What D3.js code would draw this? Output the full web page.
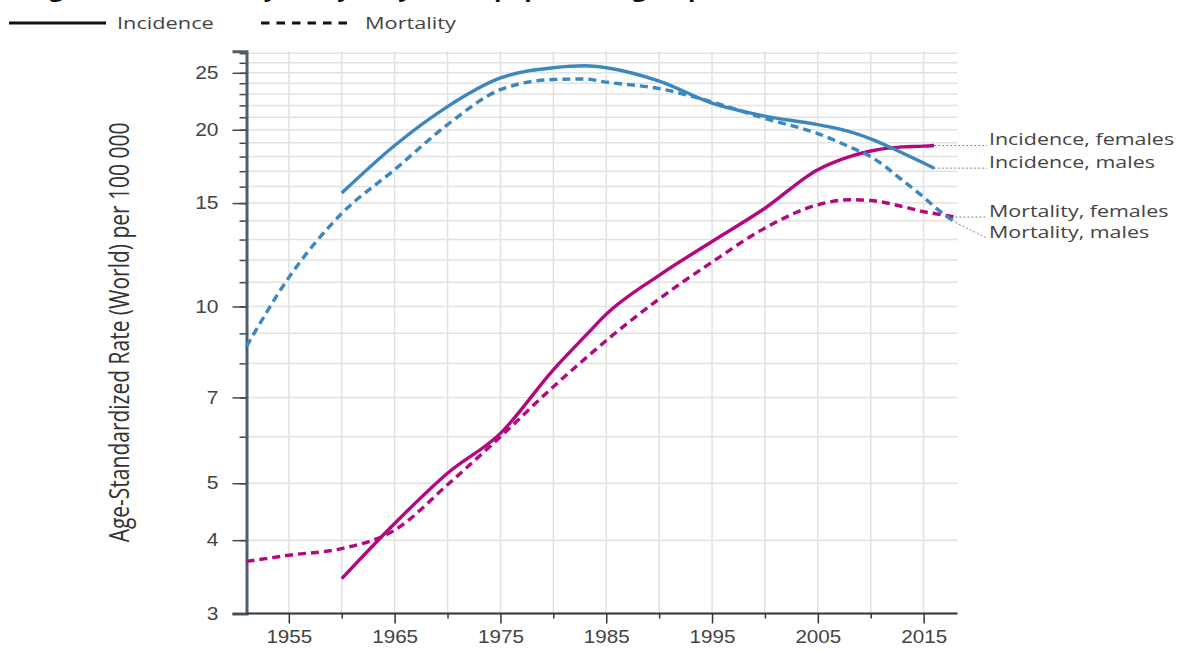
<!DOCTYPE html>
<html>
<head>
<meta charset="utf-8">
<script src="https://cdn.jsdelivr.net/npm/d3@7"></script>
<style>
  body { margin: 0; background: #fff; }
  svg { display: block; font-family: "Open Sans", "Noto Sans", sans-serif; }
</style>
</head>
<body>
<div id="chart"></div>
<script>
const years = [1951, 1955, 1960, 1965, 1970, 1975, 1980, 1983, 1985, 1990, 1995, 2000, 2005, 2008, 2010, 2013, 2015, 2016, 2018];

const incidenceMales   = [null, null, 15.6, 18.8, 21.9, 24.5, 25.5, 25.7, 25.5, 24.2, 22.2, 21.1, 20.4, 19.85, 19.3, 18.25, 17.55, 17.2, null];
const mortalityMales   = [8.55, 11.2, 14.4, 17.1, 20.4, 23.4, 24.35, 24.4, 24.1, 23.5, 22.3, 20.9, 19.7, 18.7, 18.0, 16.4, 15.35, 14.8, 13.9];
const incidenceFemales = [null, null, 3.44, 4.27, 5.2, 6.08, 7.8, 8.9, 9.7, 11.3, 12.9, 14.7, 17.1, 18.0, 18.4, 18.7, 18.75, 18.8, null];
const mortalityFemales = [3.68, 3.77, 3.87, 4.16, 4.97, 6.0, 7.3, 8.15, 8.75, 10.3, 11.9, 13.6, 14.9, 15.2, 15.15, 14.8, 14.5, 14.4, 14.2];

const seriesNames = ["Incidence, females", "Incidence, males", "Mortality, females", "Mortality, males"];
const seriesValues = [incidenceFemales, incidenceMales, mortalityFemales, mortalityMales];

const yTickLabels = [3, 4, 5, 7, 10, 15, 20, 25];
const xTickLabels = [1955, 1965, 1975, 1985, 1995, 2005, 2015];

const width = 1179;
const height = 651;
const blue = "#3b87bf";
const magenta = "#b3087f";
const textColor = "#444";

const svg = d3.select("#chart").append("svg")
    .attr("width", width)
    .attr("height", height);

// the picture is wider than tall: glyphs are drawn a bit stretched sideways
function stretch(sel, s) {
    sel.each(function() {
        const t = d3.select(this);
        const tx = +t.attr("x") || 0;
        t.attr("transform", `translate(${tx * (1 - s)},0) scale(${s},1)`);
    });
}

const x = d3.scaleLinear().domain([1951, 2018.2]).range([246.5, 957.5]);
const y = d3.scaleLog().domain([3, 27.2]).range([613.5, 51.3]);

// title, mostly cut off at the top edge
svg.append("text")
    .attr("x", 4)
    .attr("y", -3.5)
    .attr("font-size", 22)
    .attr("font-weight", "bold")
    .attr("fill", "#111")
    .text("Lung cancer: trends by sex, yearly rates, population groups")
    .call(stretch, 1.1);

// legend
const legend = svg.append("g");
legend.append("line")
    .attr("x1", 9).attr("x2", 106).attr("y1", 23).attr("y2", 23)
    .attr("stroke", "#111").attr("stroke-width", 3);
legend.append("text")
    .attr("x", 117).attr("y", 23).attr("dy", "0.35em")
    .attr("font-size", 17).attr("fill", textColor)
    .text("Incidence")
    .call(stretch, 1.28);
legend.append("line")
    .attr("x1", 261).attr("x2", 354).attr("y1", 23).attr("y2", 23)
    .attr("stroke", "#111").attr("stroke-width", 3)
    .attr("stroke-dasharray", "8.5,7");
legend.append("text")
    .attr("x", 365).attr("y", 23).attr("dy", "0.35em")
    .attr("font-size", 17).attr("fill", textColor)
    .text("Mortality")
    .call(stretch, 1.28);

// grid
const minorValues = d3.range(3, 28);
const gridYears = d3.range(1955, 2016, 5);

svg.append("g")
    .selectAll("line")
    .data(minorValues)
    .enter().append("line")
    .attr("x1", x.range()[0]).attr("x2", x.range()[1])
    .attr("y1", d => y(d)).attr("y2", d => y(d))
    .attr("stroke", "#e2e2e2").attr("stroke-width", 1.5);

svg.append("g")
    .selectAll("line")
    .data(gridYears)
    .enter().append("line")
    .attr("x1", d => x(d)).attr("x2", d => x(d))
    .attr("y1", y.range()[1]).attr("y2", y.range()[0])
    .attr("stroke", "#e2e2e2").attr("stroke-width", 1.5);

// y axis: minor ticks at every integer, labels on a few
const yMinor = svg.append("g")
    .attr("transform", `translate(${x.range()[0]},0)`)
    .call(d3.axisLeft(y).tickValues(minorValues).tickSize(7).tickFormat(""));
yMinor.select(".domain").remove();
yMinor.selectAll("line").attr("stroke", "#3d4a57").attr("stroke-width", 1.5);

const yMajor = svg.append("g")
    .attr("transform", `translate(${x.range()[0]},0)`)
    .call(d3.axisLeft(y).tickValues(yTickLabels).tickSize(14).tickPadding(14).tickFormat(d3.format("d")));
yMajor.select(".domain").attr("stroke", "#4f5e6c").attr("stroke-width", 3);
yMajor.selectAll("line").attr("stroke", "#3d4a57").attr("stroke-width", 1.5);
yMajor.selectAll("text").attr("font-size", 17.5).attr("fill", textColor).call(stretch, 1.2);

// x axis
const xMinor = svg.append("g")
    .attr("transform", `translate(0,${y.range()[0]})`)
    .call(d3.axisBottom(x).tickValues([1960, 1970, 1980, 1990, 2000, 2010]).tickSize(5).tickFormat(""));
xMinor.select(".domain").remove();
xMinor.selectAll("line").attr("stroke", "#333").attr("stroke-width", 1.5);

const xMajor = svg.append("g")
    .attr("transform", `translate(0,${y.range()[0]})`)
    .call(d3.axisBottom(x).tickValues(xTickLabels).tickSize(10).tickPadding(7).tickFormat(d3.format("d")));
xMajor.select(".domain").attr("d", `M${x.range()[0]},0H${x.range()[1]}`).attr("stroke", "#333").attr("stroke-width", 2);
xMajor.selectAll("line").attr("stroke", "#333").attr("stroke-width", 1.5);
xMajor.selectAll("text").attr("font-size", 17.5).attr("fill", textColor).call(stretch, 1.18);

// y axis title
svg.append("text")
    .attr("transform", `translate(129,${y(Math.sqrt(3 * 27.2))}) scale(1.3,1) rotate(-90)`)
    .attr("text-anchor", "middle")
    .attr("font-size", 21)
    .attr("fill", "#333")
    .text("Age-Standardized Rate (World) per 100 000");

// series
const series = seriesNames.map((name, i) => ({
    name: name,
    color: name.includes("females") ? magenta : blue,
    dashed: name.startsWith("Mortality"),
    points: years.map((yr, j) => ({ year: yr, value: seriesValues[i][j] }))
        .filter(p => p.value !== null)
}));

const line = d3.line()
    .x(d => x(d.year))
    .y(d => y(d.value))
    .curve(d3.curveMonotoneX);

svg.append("g")
    .selectAll("path")
    .data(series)
    .enter().append("path")
    .attr("d", d => line(d.points))
    .attr("fill", "none")
    .attr("stroke", d => d.color)
    .attr("stroke-width", 3.4)
    .attr("stroke-dasharray", d => d.dashed ? "8,5" : null);

// end labels with leader lines
const labelX = 989;
const ends = series.map(s => {
    const last = s.points[s.points.length - 1];
    return { name: s.name, ex: x(last.year), ey: y(last.value), ly: y(last.value) - 6 };
});
// keep the legend order among close labels
ends.sort((a, b) => Math.abs(a.ly - b.ly) < 8 ? seriesNames.indexOf(a.name) - seriesNames.indexOf(b.name) : a.ly - b.ly);
for (let i = 1; i < ends.length; i++) {
    if (ends[i].ly < ends[i - 1].ly + 21) ends[i].ly = ends[i - 1].ly + 21;
}

svg.append("g")
    .selectAll("line")
    .data(ends)
    .enter().append("line")
    .attr("x1", d => d.ex).attr("y1", d => d.ey)
    .attr("x2", labelX - 2).attr("y2", d => d.ly + 6)
    .attr("stroke", "#888").attr("stroke-width", 1)
    .attr("stroke-dasharray", "2,2");

svg.append("g")
    .selectAll("text")
    .data(ends)
    .enter().append("text")
    .attr("x", labelX)
    .attr("y", d => d.ly)
    .attr("dy", "0.35em")
    .attr("font-size", 16)
    .attr("fill", textColor)
    .text(d => d.name)
    .call(stretch, 1.34);
</script>
</body>
</html>
